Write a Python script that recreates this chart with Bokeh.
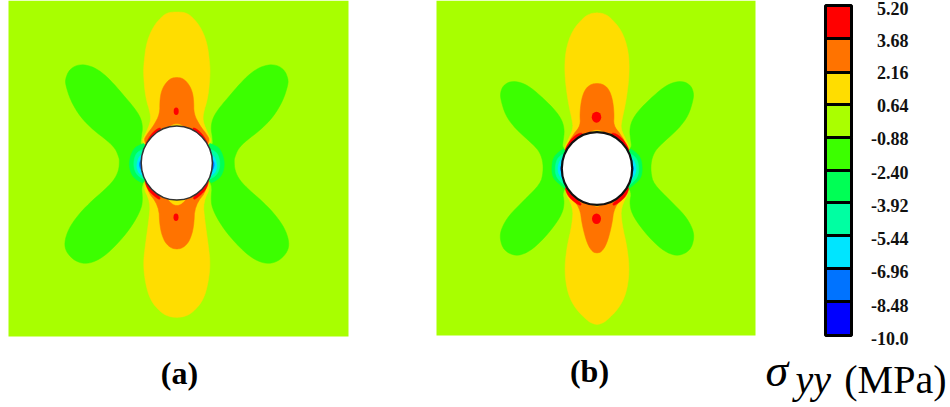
from bokeh.core.properties import value
from bokeh.embed import file_html
from bokeh.models import Range1d
from bokeh.plotting import figure
from bokeh.resources import INLINE

# Colour legend
legend_labels = ["5.20", "3.68", "2.16", "0.64", "-0.88", "-2.40", "-3.92", "-5.44", "-6.96", "-8.48", "-10.0"]
legend_label_y = [8, 40, 72, 105, 138, 172, 205, 238, 271, 305, 338]
legend_colors = ["#ff0000", "#ff7300", "#ffdd00", "#aaff00", "#3cff00", "#00ff55", "#00ffa2", "#00e5ff", "#0073ff", "#0000ff"]
legend_edges = [5, 38, 72, 104, 137, 170, 202, 235, 268, 301, 335]

BG = "#a8ff00"
GREEN = "#3cff00"
YELLOW = "#ffdd00"
ORANGE = "#ff7300"
RED = "#ff0000"

# Panel (a) read-off outlines, in picture pixels
a_panel = (8, 348, 0, 336)
a_center = (176.3, 162.6)
a_radius = (35.6, 37)
a_lobe_x = [65, 68.3, 75, 83.3, 93.3, 103.3, 113.3, 123.3, 133.3, 140, 142.3, 140.7, 140, 150, 150, 140.7, 142.3, 140, 131.7, 120, 106.7, 96.7, 86.7, 76.7, 68.3, 64, 65, 70, 80, 91.7, 103.3, 113.3, 118.3, 119, 118.3, 115, 106.7, 93.3, 80, 70, 65]
a_lobe_y = [78.3, 70, 65, 64, 66.7, 73.3, 83.3, 95, 106.7, 116.7, 126.7, 136.7, 145, 150, 175, 183.3, 200, 210, 225, 240, 253.3, 260, 263.3, 261.7, 255, 246.7, 236.7, 225, 211.7, 200, 190, 180, 170, 160, 156.7, 148.3, 140, 130, 116.7, 100, 84]
a_yellow_x = [176.3, 170, 163.3, 153.3, 146, 143.3, 143, 145, 150, 150, 145, 140.7, 152, 152, 141.7, 150, 148.3, 145, 142.7, 145, 150, 160, 168, 176.3]
a_yellow_y = [11.5, 11.7, 14, 25, 41.7, 63.3, 75, 96.7, 113.3, 121.7, 133.3, 141.7, 150, 175, 185, 201.7, 220, 243.3, 263.3, 283.3, 300, 311.7, 316, 317]
a_orange_x = [176.3, 171, 165.5, 161, 159.3, 159.3, 153.3, 146.7, 142.7, 152, 152, 145, 158.3, 159.3, 163.3, 168, 172, 176.3]
a_orange_y = [77, 77.5, 82, 90, 100, 113.3, 125, 133.3, 140.7, 150, 175, 188.3, 205, 226.7, 240, 245.5, 248, 248.5]
a_dot_x = [175.7, 175.5]
a_dot_y = [110.7, 216.7]
a_dot_w = [5, 5]
a_dot_h = [7.5, 7.5]
a_cap_x = [[167, 176.3, 185, 176.3], [165, 176.3, 188, 176.3]]
a_cap_y = [[127, 122.5, 127, 130], [197, 194, 197, 207]]
a_crescent_x = [[143.5, 147, 153, 159, 161, 155, 150, 146], [146, 150, 156, 160, 159, 153, 147, 144]]
a_crescent_y = [[148, 139, 131, 127, 128.5, 134, 141, 150], [178, 186, 193, 197, 199.5, 195, 189, 180]]
a_t1_x = [146, 139, 133, 128.5, 129.5, 134.5, 146]
a_t1_y = [142, 144.5, 148, 160, 171, 179, 184]
a_t2_x = [146, 139, 135, 133, 134, 138, 146]
a_t2_y = [148, 150, 154, 162, 170, 176, 180]
a_t3_x = [146, 139, 136.3, 136.5, 139.5, 146]
a_t3_y = [152, 155, 163, 169, 174, 177]
a_t4_x = [146, 140.5, 138.5, 140.5, 146]
a_t4_y = [156, 158.5, 164, 170, 172]

# Panel (b) read-off outlines, in picture pixels
b_panel = (436, 755, 0, 335)
b_center = (596.5, 168)
b_radius = (35.2, 36.4)
b_lobe_x = [500, 502.7, 510, 520, 530, 543.3, 555, 561.7, 564, 562.7, 561.7, 570, 570, 561.7, 564, 561.7, 551.7, 538.3, 526.7, 515, 503.3, 499.3, 500.7, 508.3, 523.3, 540, 542.7, 542.3, 538.3, 530, 515, 505, 500]
b_lobe_y = [91.7, 85, 80.7, 81.7, 86.7, 98.3, 110, 120, 130, 140, 147, 155, 180, 191.7, 201.7, 213.3, 228.3, 243.3, 252.3, 255.7, 250, 238.3, 228.3, 215, 200, 183.3, 171.7, 160, 150, 141.7, 128.3, 115, 98.3]
b_yellow_x = [596.5, 590, 583.3, 571.7, 565, 564, 567.3, 571.7, 572.7, 567.3, 563.3, 572, 572, 563.3, 572.7, 571.7, 566, 564, 567.3, 575, 586.7, 592, 596.5]
b_yellow_y = [12.3, 13, 16.7, 30, 50, 73.3, 100, 120, 128.3, 140, 148.3, 155, 180, 190, 206.7, 223.3, 248.3, 271.7, 293.3, 308.3, 320, 323, 324]
b_orange_x = [596.5, 591, 585, 581, 579.3, 580, 573.3, 567.3, 572, 572, 567.3, 579.3, 581.7, 586.7, 592, 596.5]
b_orange_y = [83, 83.5, 88, 98.3, 113.3, 125, 133.3, 143.3, 155, 180, 193.3, 206.7, 225, 243.3, 251.5, 252.5]
b_dot_x = [596, 596]
b_dot_y = [116.7, 218.3]
b_dot_w = [9.5, 9]
b_dot_h = [11, 10.5]
b_cap_x = [[586, 596.5, 607, 596.5], [588, 596.5, 605, 596.5]]
b_cap_y = [[134, 128.5, 134, 137], [200, 198, 200, 207.5]]
b_crescent_x = [[563, 566.5, 573, 580, 583, 576, 570, 566], [566, 570, 576, 581, 580, 573, 567, 564]]
b_crescent_y = [[154, 144, 136, 132, 134, 140, 148, 156], [184, 192, 199, 203, 205.5, 201, 195, 186]]
b_t1_x = [566, 558.3, 552.5, 551, 552.5, 561.7, 566]
b_t1_y = [147, 151, 157.5, 168.3, 178, 186, 189]
b_t2_x = [566, 558.5, 555.5, 554.5, 556, 560.5, 566]
b_t2_y = [151, 156, 161, 170, 176.5, 182, 186]
b_t3_x = [566, 560.5, 557.5, 557.5, 561.5, 566]
b_t3_y = [155, 158, 165, 172, 179, 183]
b_t4_x = [566, 562, 559.5, 562, 566]
b_t4_y = [159, 162, 168, 175, 179]
b_t5_x = [566, 564, 561.5, 564, 566]
b_t5_y = [161, 164, 169, 175, 177]

panel_labels = ["(a)", "(b)"]
panel_label_x = [179, 589]
panel_label_y = [372, 370]


def smooth(xs, ys, n=2):
    """Round the corners of a traced closed outline (Chaikin corner cutting)."""
    for _ in range(n):
        nx, ny = [], []
        for i in range(len(xs)):
            j = (i + 1) % len(xs)
            nx += [0.75 * xs[i] + 0.25 * xs[j], 0.25 * xs[i] + 0.75 * xs[j]]
            ny += [0.75 * ys[i] + 0.25 * ys[j], 0.25 * ys[i] + 0.75 * ys[j]]
        xs, ys = nx, ny
    return xs, ys


def mirror(xs, cx):
    return [2 * cx - x for x in xs]


p = figure(width=950, height=407, x_range=Range1d(0, 950), y_range=Range1d(407, 0),
           output_backend="svg", toolbar_location=None, min_border=0)
p.axis.visible = False
p.grid.visible = False
p.outline_line_color = None
p.background_fill_color = "#ffffff"


def blob(xs, ys, color):
    sx, sy = smooth(xs, ys)
    p.patch(sx, sy, fill_color=color, line_color=color, line_width=0.5)


def both_sides(xs, ys, cx, color):
    blob(xs, ys, color)
    blob(mirror(xs, cx), ys, color)


def half_outline(xs, ys, cx, color):
    blob(xs + mirror(xs, cx)[::-1], ys + ys[::-1], color)


def draw_panel(panel, center, radius, lobe, yellow, orange, caps, crescents, teal, dots, ring):
    cx, cy = center
    p.quad(left=[panel[0]], right=[panel[1]], top=[panel[2]], bottom=[panel[3]],
           fill_color=BG, line_color=None)
    both_sides(lobe[0], lobe[1], cx, GREEN)
    half_outline(yellow[0], yellow[1], cx, YELLOW)
    half_outline(orange[0], orange[1], cx, ORANGE)
    for xs, ys in zip(*caps):
        blob(xs, ys, YELLOW)
    for xs, ys in zip(*crescents):
        both_sides(xs, ys, cx, RED)
    for (xs, ys), color in zip(teal, ["#00ff55", "#00ffa2", "#00e5ff", "#0073ff", "#0000ff"]):
        both_sides(xs, ys, cx, color)
    p.ellipse(x=dots[0], y=dots[1], width=dots[2], height=dots[3], fill_color=RED, line_color=None)
    p.ellipse(x=[cx], y=[cy], width=[2 * radius[0]], height=[2 * radius[1]],
              fill_color="#ffffff", line_color=ring[0], line_width=ring[1])


draw_panel(a_panel, a_center, a_radius, (a_lobe_x, a_lobe_y), (a_yellow_x, a_yellow_y),
           (a_orange_x, a_orange_y), (a_cap_x, a_cap_y), (a_crescent_x, a_crescent_y),
           [(a_t1_x, a_t1_y), (a_t2_x, a_t2_y), (a_t3_x, a_t3_y), (a_t4_x, a_t4_y)],
           (a_dot_x, a_dot_y, a_dot_w, a_dot_h), ("#333333", 1.5))
draw_panel(b_panel, b_center, b_radius, (b_lobe_x, b_lobe_y), (b_yellow_x, b_yellow_y),
           (b_orange_x, b_orange_y), (b_cap_x, b_cap_y), (b_crescent_x, b_crescent_y),
           [(b_t1_x, b_t1_y), (b_t2_x, b_t2_y), (b_t3_x, b_t3_y), (b_t4_x, b_t4_y), (b_t5_x, b_t5_y)],
           (b_dot_x, b_dot_y, b_dot_w, b_dot_h), ("#111111", 2.2))

# Colour bar
p.quad(left=[825] * 10, right=[851] * 10, top=legend_edges[:-1], bottom=legend_edges[1:],
       fill_color=legend_colors, line_color="#000000", line_width=3)
p.text(x=[908] * len(legend_labels), y=legend_label_y, text=legend_labels,
       text_font=value("Liberation Serif"), text_font_style="bold", text_font_size=value("18px"),
       text_align="right", text_baseline="middle", text_color="#111111")

# Panel captions
p.text(x=panel_label_x, y=panel_label_y, text=panel_labels,
       text_font=value("Liberation Serif"), text_font_style="bold", text_font_size=value("32px"),
       text_align="center", text_baseline="middle", text_color="#000000")

# Quantity label
p.text(x=[765], y=[370], text=["σ"], text_font=value("Liberation Serif"), text_font_style="italic",
       text_font_size=value("46px"), text_align="left", text_baseline="middle", text_color="#000000")
p.text(x=[795], y=[379], text=["yy"], text_font=value("Liberation Serif"), text_font_style="italic",
       text_font_size=value("40px"), text_align="left", text_baseline="middle", text_color="#000000")
p.text(x=[946], y=[379], text=["(MPa)"], text_font=value("Liberation Serif"),
       text_font_size=value("40px"), text_align="right", text_baseline="middle", text_color="#000000")

open("out.html", "w").write(file_html(p, INLINE))
